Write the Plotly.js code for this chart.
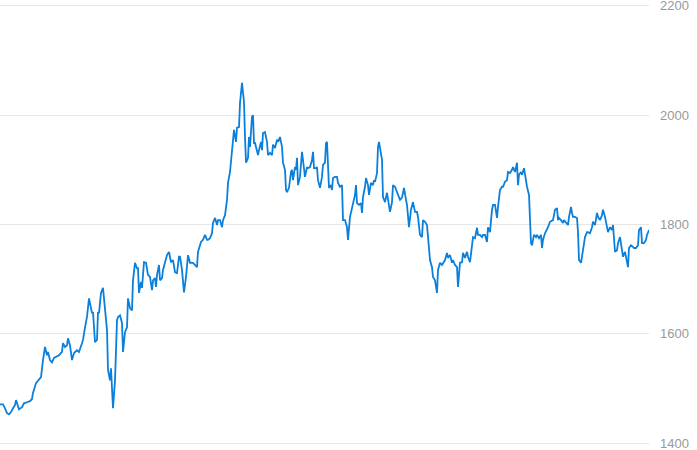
<!DOCTYPE html>
<html>
<head>
<meta charset="utf-8">
<script src="https://cdn.plot.ly/plotly-3.0.1.min.js"></script>
<style>html,body{margin:0;padding:0;background:#fff;}#chart{width:697px;height:450px;}</style>
</head>
<body>
<div id="chart"></div>
<script>
// Session index (approx. trading days) and closing prices
const days = [
0,3,5,7,9,11,13,15,16,17,19,22,24,27,30,32,33,36,38,41,43,45,47,48,50,52,54,57,59,62,63,65,67,68,70,72,74,77,79,82,83,85,87,89,91,92,93,95,97,98,99,
101,103,105,107,108,110,111,112,113,115,117,118,120,122,123,125,127,128,130,132,133,135,137,138,139,141,142,144,146,148,150,152,153,155,156,157,159,160,162,163,166,167,169,171,173,175,177,179,
180,182,184,186,188,190,193,195,197,198,201,203,205,207,208,210,212,213,215,217,218,220,222,223,225,227,228,230,232,233,234,236,237,239,240,242,243,244,245,246,248,249,250,252,253,254,255,257,258,259,261,262,263,265,267,268,270,272,273,275,277,278,280,282,283,285,286,287,289,291,292,293,295,296,297,298,300,302,303,305,307,308,310,312,313,314,316,317,318,320,322,323,325,326,327,328,329,331,332,333,335,337,338,340,342,343,345,347,348,350,352,353,355,356,357,359,361,362,363,365,366,368,369,371,373,374,375,377,378,379,381,382,383,385,387,388,390,392,393,395,397,398,
400,402,404,406,407,409,411,413,415,417,418,420,422,423,425,427,428,430,432,433,435,437,438,440,442,443,445,447,448,450,452,453,455,457,458,460,462,463,465,467,468,470,472,473,475,477,478,480,482,483,485,487,488,490,492,493,495,497,498,500,502,503,505,507,508,510,512,513,515,517,518,519,521,522,524,526,527,529,531,532,534,536,537,539,541,542,543,545,547,548,550,552,553,555,557,558,559,561,563,564,566,568,569,571,572,573,575,577,578,579,581,582,583,585,587,588,590,592,593,595,597,598,600,602,603,605,607,608,610,612,613,615,617,618,620,622,623,625,627,628,629,631,633,634,636,638,639,641,642,644,646,647,649
];
const prices = [
1471,1471,1464,1455,1453,1457,1464,1470,1479,1473,1462,1466,1473,1475,1477,1481,1492,1510,1514,1521,1552,1576,1561,1567,1552,1548,1556,1559,1561,1567,1583,1576,1579,1592,1579,1552,1565,1570,1567,1583,1589,1612,1631,1665,1649,1638,1640,1585,1589,1640,1638,
1675,1684,1649,1607,1534,1515,1537,1497,1464,1515,1625,1631,1634,1620,1567,1603,1612,1665,1647,1643,1698,1730,1720,1720,1675,1695,1684,1731,1730,1708,1704,1680,1698,1702,1686,1708,1726,1698,1702,1717,1741,1744,1750,1731,1735,1713,1711,1741,
1741,1717,1676,1704,1744,1730,1730,1726,1722,1750,1768,1772,1781,1772,1772,1775,1784,1803,1812,1799,1808,1808,1795,1808,1817,1845,1876,1896,1942,1960,1973,1951,1977,1978,2022,2059,2033,2024,1960,1913,1922,1960,1942,1997,2000,1949,1949,1936,1927,1936,1951,1936,1967,1969,1951,1927,1931,1927,1946,1940,1955,1951,1960,1942,1913,1900,1863,1859,1867,1896,1900,1881,1905,1900,1922,1872,1887,1933,1914,1887,1905,1903,1905,1918,1933,1903,1903,1905,1881,1867,1887,1909,1913,1949,1951,1900,1867,1872,1863,1885,1887,1887,1876,1869,1872,1808,1808,1795,1772,1814,1832,1841,1854,1872,1839,1836,1839,1821,1850,1869,1885,1872,1854,1876,1872,1881,1878,1894,1942,1951,1931,1918,1850,1841,1858,1845,1823,1841,1872,1869,1858,1854,
1845,1849,1867,1845,1836,1795,1827,1841,1823,1823,1814,1781,1777,1808,1805,1799,1772,1735,1722,1704,1698,1675,1717,1730,1726,1730,1735,1748,1739,1744,1730,1735,1726,1722,1686,1730,1731,1748,1739,1750,1741,1731,1759,1777,1775,1794,1781,1781,1777,1781,1781,1768,1795,1786,1827,1836,1836,1812,1832,1863,1869,1869,1878,1881,1896,1894,1900,1905,1896,1913,1872,1891,1896,1891,1903,1878,1869,1854,1766,1762,1781,1777,1781,1775,1781,1757,1772,1784,1790,1795,1805,1808,1808,1827,1830,1808,1812,1808,1803,1808,1803,1799,1814,1832,1821,1814,1814,1812,1786,1735,1730,1748,1753,1777,1786,1786,1784,1795,1805,1799,1821,1814,1808,1817,1827,1814,1794,1786,1795,1790,1799,1750,1753,1766,1777,1757,1741,1750,1735,1722,1757,1762,1759,1757,1757,1762,1790,1795,1766,1766,1772,1781,1790
];
const yTicks = [1400, 1600, 1800, 2000, 2200];

const trace = {
  x: days,
  y: prices,
  type: 'scatter',
  mode: 'lines',
  line: {color: '#0a80dc', width: 1.8},
  hoverinfo: 'skip'
};

const layout = {
  width: 697,
  height: 450,
  margin: {l: 0, r: 48, t: 3, b: 4, pad: 0},
  paper_bgcolor: '#ffffff',
  plot_bgcolor: '#ffffff',
  showlegend: false,
  xaxis: {
    range: [days[0], days[days.length - 1]],
    visible: false,
    showgrid: false,
    zeroline: false,
    fixedrange: true
  },
  yaxis: {
    side: 'right',
    range: [1395, 2205],
    tickvals: yTicks,
    ticktext: yTicks.map(String),
    showgrid: true,
    gridcolor: '#e6e6e6',
    gridwidth: 1,
    zeroline: false,
    showline: false,
    ticks: '',
    ticklabelstandoff: 10,
    ticklabeloverflow: 'allow',
    tickfont: {family: 'Liberation Sans, Arial, sans-serif', size: 13, color: '#999999'},
    fixedrange: true,
    automargin: false
  }
};

Plotly.newPlot('chart', [trace], layout, {displayModeBar: false, staticPlot: true});
</script>
</body>
</html>
